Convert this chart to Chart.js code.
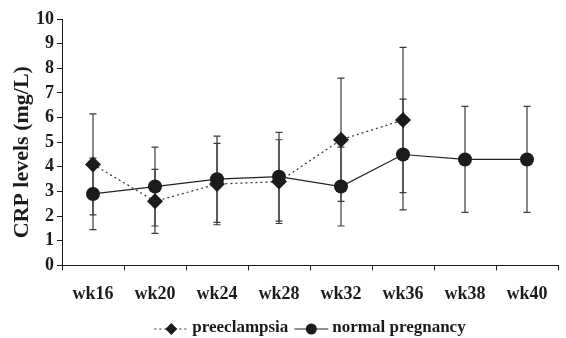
<!DOCTYPE html>
<html>
<head>
<meta charset="utf-8">
<script src="https://cdn.jsdelivr.net/npm/chart.js@4"></script>
<style>
  html, body { margin: 0; padding: 0; background: #fff; }
  #wrap { width: 566px; height: 338px; }
</style>
</head>
<body>
<div id="wrap"><canvas id="crpChart" width="566" height="338"></canvas></div>
<script>
// Datos
const weeks = ['wk16', 'wk20', 'wk24', 'wk28', 'wk32', 'wk36', 'wk38', 'wk40'];
const preeclampsiaMean = [4.1, 2.6, 3.3, 3.4, 5.1, 5.9, null, null];
const preeclampsiaErr = [2.05, 1.3, 1.65, 1.7, 2.5, 2.95, null, null];
const normalMean = [2.9, 3.2, 3.5, 3.6, 3.2, 4.5, 4.3, 4.3];
const normalErr = [1.45, 1.6, 1.75, 1.8, 1.6, 2.25, 2.15, 2.15];
const yTitle = 'CRP levels (mg/L)';

const SERIF = '"Liberation Serif", "Times New Roman", serif';
const INK = '#1b1b1b';

// Barras de error (media ± error), dibujadas debajo de los puntos
const errorBars = {
  id: 'errorBars',
  beforeDatasetsDraw(chart) {
    const { ctx, scales: { x, y } } = chart;
    ctx.save();
    ctx.strokeStyle = '#3a3a3a';
    ctx.lineWidth = 1.2;
    chart.data.datasets.forEach(ds => {
      ds.data.forEach((v, i) => {
        if (v == null) return;
        const e = ds.errors[i];
        const px = x.getPixelForValue(i);
        const top = y.getPixelForValue(v + e);
        const bot = y.getPixelForValue(v - e);
        ctx.beginPath();
        ctx.moveTo(px, top);
        ctx.lineTo(px, bot);
        ctx.moveTo(px - 3.5, top);
        ctx.lineTo(px + 3.5, top);
        ctx.moveTo(px - 3.5, bot);
        ctx.lineTo(px + 3.5, bot);
        ctx.stroke();
      });
    });
    ctx.restore();
  }
};

// Título del eje Y, algo más bajo que el centro del área (como el original)
const yAxisTitle = {
  id: 'yAxisTitle',
  afterDraw(chart) {
    const { ctx, chartArea } = chart;
    ctx.save();
    ctx.font = 'bold 22px ' + SERIF;
    ctx.fillStyle = INK;
    ctx.textAlign = 'center';
    ctx.textBaseline = 'middle';
    ctx.translate(22, (chartArea.top + chartArea.bottom) / 2 + 10);
    ctx.rotate(-Math.PI / 2);
    ctx.fillText(yTitle, 0, 0);
    ctx.restore();
  }
};

// Leyenda con línea + marcador, centrada bajo el área del gráfico
const lineLegend = {
  id: 'lineLegend',
  afterDraw(chart) {
    const { ctx, chartArea } = chart;
    ctx.save();
    ctx.font = 'bold 17px ' + SERIF;
    const lineLen = 34, gap = 4, itemGap = 6;
    const items = chart.data.datasets.map(ds => ({ ds, w: ctx.measureText(ds.label).width }));
    const total = items.reduce((s, it) => s + lineLen + gap + it.w, 0) + itemGap * (items.length - 1);
    let xPos = (chartArea.left + chartArea.right) / 2 - total / 2;
    const yPos = 329;
    items.forEach(({ ds, w }) => {
      ctx.strokeStyle = ds.borderColor;
      ctx.lineWidth = ds.borderWidth;
      ctx.setLineDash(ds.borderDash || []);
      ctx.beginPath();
      ctx.moveTo(xPos, yPos);
      ctx.lineTo(xPos + lineLen, yPos);
      ctx.stroke();
      ctx.setLineDash([]);

      const cx = xPos + lineLen / 2;
      const r = 6;
      ctx.fillStyle = ds.pointBackgroundColor;
      ctx.beginPath();
      if (ds.pointStyle === 'rectRot') {
        ctx.moveTo(cx, yPos - r);
        ctx.lineTo(cx + r, yPos);
        ctx.lineTo(cx, yPos + r);
        ctx.lineTo(cx - r, yPos);
        ctx.closePath();
      } else {
        ctx.arc(cx, yPos, r - 0.5, 0, Math.PI * 2);
      }
      ctx.fill();

      ctx.fillStyle = INK;
      ctx.textBaseline = 'middle';
      ctx.textAlign = 'left';
      ctx.fillText(ds.label, xPos + lineLen + gap, yPos - 1);
      xPos += lineLen + gap + w + itemGap;
    });
    ctx.restore();
  }
};

new Chart(document.getElementById('crpChart').getContext('2d'), {
  type: 'line',
  data: {
    labels: weeks,
    datasets: [
      {
        label: 'preeclampsia',
        data: preeclampsiaMean,
        errors: preeclampsiaErr,
        borderColor: '#333',
        borderWidth: 1.2,
        borderDash: [2, 3],
        pointStyle: 'rectRot',
        pointRadius: 8,
        pointHoverRadius: 8,
        pointBackgroundColor: INK,
        pointBorderWidth: 0,
        tension: 0
      },
      {
        label: 'normal pregnancy',
        data: normalMean,
        errors: normalErr,
        borderColor: '#222',
        borderWidth: 1.2,
        pointStyle: 'circle',
        pointRadius: 7,
        pointHoverRadius: 7,
        pointBackgroundColor: INK,
        pointBorderWidth: 0,
        tension: 0
      }
    ]
  },
  options: {
    responsive: false,
    animation: false,
    layout: { padding: { left: 33, right: 0, top: 19, bottom: 20 } },
    plugins: {
      legend: { display: false },
      tooltip: { enabled: false }
    },
    scales: {
      x: {
        offset: true,
        grid: {
          offset: true,
          drawOnChartArea: false,
          drawTicks: true,
          tickLength: 5,
          color: INK
        },
        border: { color: INK, width: 1 },
        ticks: {
          color: INK,
          padding: 13,
          maxRotation: 0,
          font: { family: SERIF, size: 18, weight: 'bold' }
        }
      },
      y: {
        min: 0,
        max: 10,
        grid: {
          drawOnChartArea: false,
          drawTicks: true,
          tickLength: 5,
          color: INK
        },
        border: { color: INK, width: 1 },
        ticks: {
          stepSize: 1,
          autoSkip: false,
          color: INK,
          padding: 3,
          font: { family: SERIF, size: 18, weight: 'bold' }
        }
      }
    }
  },
  plugins: [errorBars, yAxisTitle, lineLegend]
});
</script>
</body>
</html>
